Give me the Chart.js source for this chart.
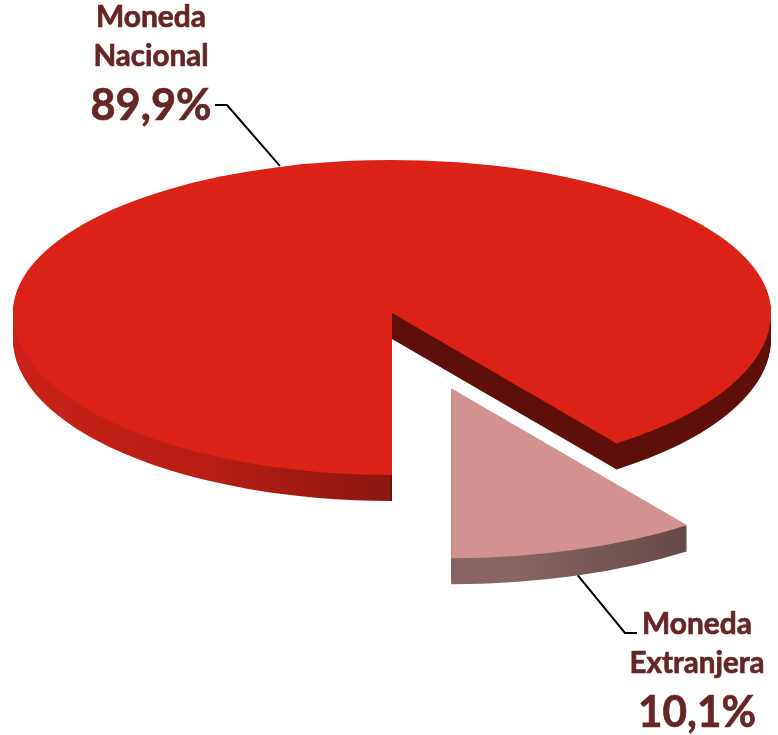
<!DOCTYPE html>
<html>
<head>
  <title>Moneda Nacional / Extranjera</title>
  <script src="https://cdn.jsdelivr.net/npm/chart.js"></script>
  <style>
    html, body { margin: 0; padding: 0; background: #fff; }
    canvas { display: block; }
  </style>
</head>
<body>
  <canvas id="myChart" width="778" height="735"></canvas>
  <script>
    // Data
    const categories = ['Moneda Nacional', 'Moneda Extranjera'];
    const shares = [89.9, 10.1];
    const labelLines = [['Moneda', 'Nacional'], ['Moneda', 'Extranjera']];

    const topColors = ['#da2316', '#d19290'];

    // Tilted pie look: flat Chart.js arcs get squashed when drawn
    const radius = 379;
    const centerX = 392;
    const centerY = 313;
    const squashBack = 153 / radius;   // far half of the ellipse
    const squashFront = 162 / radius;  // near half, a bit bigger
    const depth = 26;
    const nearScale = 1.05;            // the pulled out slice looks closer
    const pullOut = 190;

    function sideGradient(ctx, i) {
      if (i === 0) {
        const g = ctx.createLinearGradient(13, 0, 771, 0);
        g.addColorStop(0, '#cb2118');
        g.addColorStop(0.25, '#b81e15');
        g.addColorStop(0.497, '#8c1610');
        g.addColorStop(0.499, '#5e0f09');
        g.addColorStop(1, '#5e0f09');
        return g;
      }
      const g = ctx.createLinearGradient(452, 0, 688, 0);
      g.addColorStop(0, '#8a6464');
      g.addColorStop(1, '#573c3c');
      return g;
    }

    function squash(ctx, k) {
      ctx.translate(centerX, centerY);
      ctx.scale(1, k);
      ctx.translate(-centerX, -centerY);
    }

    function drawWith(ctx, arc, color) {
      const saved = arc.options;
      arc.options = Object.assign({}, saved, { backgroundColor: color, borderWidth: 0 });
      arc.draw(ctx);
      arc.options = saved;
    }

    function drawMain(ctx, arc, color, dy) {
      // near half
      ctx.save();
      ctx.translate(0, dy);
      ctx.beginPath();
      ctx.rect(0, centerY - 0.5, 778, 735);
      ctx.clip();
      squash(ctx, squashFront);
      drawWith(ctx, arc, color);
      ctx.restore();
      // far half
      ctx.save();
      ctx.translate(0, dy);
      ctx.beginPath();
      ctx.rect(0, 0, 778, centerY);
      ctx.clip();
      squash(ctx, squashBack);
      drawWith(ctx, arc, color);
      ctx.restore();
    }

    function slicePeak(arc) {
      const mid = (arc.startAngle + arc.endAngle) / 2;
      return {
        x: centerX + Math.cos(mid) * pullOut,
        y: centerY + Math.sin(mid) * pullOut * squashFront - 2
      };
    }

    function drawNear(ctx, arc, color, dy) {
      const p = slicePeak(arc);
      ctx.save();
      ctx.translate(p.x, p.y + dy);
      ctx.scale(nearScale, nearScale * squashFront);
      ctx.translate(-centerX, -centerY);
      drawWith(ctx, arc, color);
      ctx.restore();
    }

    const tiltedPie = {
      id: 'tiltedPie',
      beforeDatasetsDraw(chart) {
        const ctx = chart.ctx;
        const arcs = chart.getDatasetMeta(0).data;
        const mainSide = sideGradient(ctx, 0);
        const nearSide = sideGradient(ctx, 1);
        for (let d = depth; d >= 1; d--) drawMain(ctx, arcs[0], mainSide, d);
        drawMain(ctx, arcs[0], topColors[0], 0);
        for (let d = depth; d >= 1; d--) drawNear(ctx, arcs[1], nearSide, d);
        drawNear(ctx, arcs[1], topColors[1], 0);
        return false;
      },
      afterDraw(chart) {
        const ctx = chart.ctx;
        const arcs = chart.getDatasetMeta(0).data;

        // leader lines start on the rim of their slice
        const a0 = arcs[0].startAngle + (arcs[0].endAngle - arcs[0].startAngle) * 0.503;
        const rim0 = {
          x: centerX + Math.cos(a0) * radius,
          y: centerY + Math.sin(a0) * radius * squashBack - 1
        };
        const a1 = arcs[1].startAngle + (arcs[1].endAngle - arcs[1].startAngle) * 0.49;
        const p = slicePeak(arcs[1]);
        const rim1 = {
          x: p.x + Math.cos(a1) * radius * nearScale,
          y: p.y + Math.sin(a1) * radius * squashFront * nearScale + depth
        };
        ctx.save();
        ctx.strokeStyle = '#000';
        ctx.lineWidth = 2;
        ctx.beginPath();
        ctx.moveTo(215, 105);
        ctx.lineTo(227, 105);
        ctx.lineTo(rim0.x, rim0.y);
        ctx.stroke();
        ctx.beginPath();
        ctx.moveTo(rim1.x, rim1.y);
        ctx.lineTo(625, 633);
        ctx.lineTo(637, 633);
        ctx.stroke();

        ctx.fillStyle = '#662626';
        ctx.strokeStyle = '#662626';
        ctx.lineWidth = 0.7;
        ctx.textAlign = 'center';
        ctx.textBaseline = 'alphabetic';
        const pct = shares.map(v => v.toFixed(1).replace('.', ',') + '%');
        const put = (t, x, y, w) => { ctx.fillText(t, x, y, w); ctx.strokeText(t, x, y, w); };
        ctx.font = 'bold 30px Lato';
        put(labelLines[0][0], 151, 27, 110);
        put(labelLines[0][1], 151, 66, 115);
        put(labelLines[1][0], 697, 634, 110);
        put(labelLines[1][1], 697, 673, 135);
        ctx.font = 'bold 44px Lato';
        put(pct[0], 151, 120, 121);
        put(pct[1], 697, 727, 118);
        ctx.restore();
      }
    };

    const ctx = document.getElementById('myChart').getContext('2d');
    const myChart = new Chart(ctx, {
      type: 'pie',
      data: {
        labels: categories,
        datasets: [{
          data: shares,
          backgroundColor: topColors,
          borderWidth: 0
        }]
      },
      options: {
        responsive: false,
        animation: false,
        rotation: 180,
        radius: radius,
        layout: { padding: { left: 2 * centerX - 778, bottom: 735 - 2 * centerY } },
        plugins: {
          legend: { display: false },
          tooltip: { enabled: false }
        }
      },
      plugins: [tiltedPie]
    });
  </script>
</body>
</html>
